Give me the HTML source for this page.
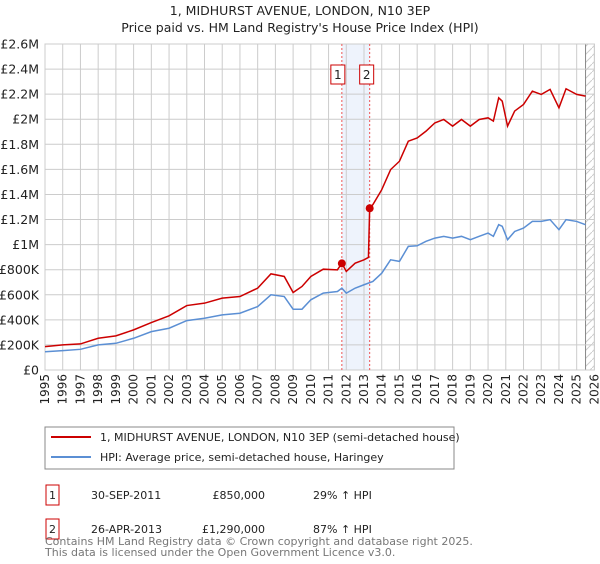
<!DOCTYPE html>
<html><head><meta charset="utf-8"><style>
body{margin:0;background:#fff;font-family:"DejaVu Sans","Liberation Sans",sans-serif;}
svg text{font-family:"DejaVu Sans","Liberation Sans",sans-serif;}
</style></head><body>
<svg id="c" width="600" height="560" xmlns="http://www.w3.org/2000/svg">
<text x="300" y="15" text-anchor="middle" font-size="12.5" fill="#222">1, MIDHURST AVENUE, LONDON, N10 3EP</text>
<text x="300" y="32" text-anchor="middle" font-size="12.5" fill="#222">Price paid vs. HM Land Registry's House Price Index (HPI)</text>
<g id="grid"></g><g id="marks"></g><g id="axes"></g>
<rect x="45" y="427" width="409" height="42" fill="#fff" stroke="#888"/>
<line x1="51" y1="437" x2="91" y2="437" stroke="#cc0000" stroke-width="2"/>
<text x="100" y="441" font-size="11" fill="#222">1, MIDHURST AVENUE, LONDON, N10 3EP (semi-detached house)</text>
<line x1="51" y1="457" x2="91" y2="457" stroke="#5b8fd4" stroke-width="2"/>
<text x="100" y="461" font-size="11" fill="#222">HPI: Average price, semi-detached house, Haringey</text>
<rect x="46" y="485" width="13" height="20" fill="#fff" stroke="#cc0000"/>
<text x="52.5" y="499" text-anchor="middle" font-size="11" fill="#222">1</text>
<text x="91" y="499" font-size="11" fill="#222">30-SEP-2011</text>
<text x="265" y="499" text-anchor="end" font-size="11" fill="#222">£850,000</text>
<text x="313" y="499" font-size="11" fill="#222">29% ↑ HPI</text>
<rect x="46" y="519" width="13" height="20" fill="#fff" stroke="#cc0000"/>
<text x="52.5" y="533" text-anchor="middle" font-size="11" fill="#222">2</text>
<text x="91" y="533" font-size="11" fill="#222">26-APR-2013</text>
<text x="265" y="533" text-anchor="end" font-size="11" fill="#222">£1,290,000</text>
<text x="313" y="533" font-size="11" fill="#222">87% ↑ HPI</text>
<text x="45" y="545" font-size="11" fill="#777">Contains HM Land Registry data © Crown copyright and database right 2025.</text>
<text x="45" y="556" font-size="11" fill="#777">This data is licensed under the Open Government Licence v3.0.</text>
</svg>
<script>
const yTicks=[0,200000,400000,600000,800000,1000000,1200000,1400000,1600000,1800000,2000000,2200000,2400000,2600000];
const yTickLabels=["£0","£200K","£400K","£600K","£800K","£1M","£1.2M","£1.4M","£1.6M","£1.8M","£2M","£2.2M","£2.4M","£2.6M"];
const hpiYears=[1995,1996,1997,1998,1999,2000,2001,2002,2003,2004,2005,2006,2007,2007.75,2008.5,2009,2009.5,2010,2010.7,2011.5,2011.75,2012,2012.5,2013,2013.5,2014,2014.5,2015,2015.5,2016,2016.5,2017,2017.5,2018,2018.5,2019,2019.5,2020,2020.3,2020.6,2020.8,2021.1,2021.5,2022,2022.5,2023,2023.5,2024,2024.4,2025,2025.5];
const hpiValues=[146000,155000,165000,200000,213000,253000,306000,333000,394000,413000,440000,453000,506000,600000,586000,485000,485000,560000,613000,626000,653000,613000,653000,680000,706000,772000,879000,866000,986000,991000,1026000,1052000,1066000,1052000,1066000,1039000,1066000,1092000,1066000,1159000,1146000,1039000,1105000,1132000,1185000,1185000,1199000,1119000,1199000,1185000,1159000];
const propYears=[1995,1996,1997,1998,1999,2000,2001,2002,2003,2004,2005,2006,2007,2007.75,2008.5,2009,2009.5,2010,2010.7,2011.5,2011.75,2012,2012.5,2013,2013.25,2013.32,2013.5,2014,2014.5,2015,2015.5,2016,2016.5,2017,2017.5,2018,2018.5,2019,2019.5,2020,2020.3,2020.6,2020.8,2021.1,2021.5,2022,2022.5,2023,2023.5,2024,2024.4,2025,2025.5];
const propValues=[186000,200000,208000,253000,272000,320000,378000,432000,514000,533000,573000,586000,653000,767000,746000,618000,666000,746000,804000,799000,852000,786000,852000,879000,898000,1292000,1319000,1438000,1598000,1665000,1825000,1851000,1905000,1971000,1998000,1945000,1998000,1945000,1998000,2011000,1985000,2171000,2144000,1945000,2065000,2118000,2224000,2198000,2238000,2091000,2243000,2198000,2184000];
const saleYears=[2011.75,2013.32];
const saleValues=[850000,1290000];
const saleLabels=["1","2"];
const NS="http://www.w3.org/2000/svg";
const X0=45,X1=594.4,Y0=370,Y1=44;
const x=y=>X0+(y-1995)/(2026-1995)*(X1-X0);
const yv=v=>Y0-v/2600000*(Y0-Y1);
function mk(t,a,p){const e=document.createElementNS(NS,t);for(const k in a)e.setAttribute(k,a[k]);p.appendChild(e);return e;}
const grid=document.getElementById('grid'),marks=document.getElementById('marks'),axes=document.getElementById('axes');
let band=mk('rect',{x:x(saleYears[0]),y:Y1,width:x(saleYears[1])-x(saleYears[0]),height:Y0-Y1,fill:'#eef3fc'},grid);


let defs=mk('defs',{},grid);
let pat=mk('pattern',{id:'h',width:8,height:8,patternUnits:'userSpaceOnUse'},defs);
mk('path',{d:'M0,8 L8,0',stroke:'#ccc','stroke-width':1},pat);
let hatch=mk('rect',{x:x(2025.5),y:Y1,width:X1-x(2025.5),height:Y0-Y1,fill:'url(#h)'},grid);


for(let yr=1995;yr<=2026;yr++){
 const g=mk('line',{x1:x(yr),x2:x(yr),y1:Y1,y2:Y0,stroke:'#cccccc','stroke-width':1},grid);
 
 
 const tx=x(yr)+4,ty=Y0+4;
 const t=mk('text',{x:tx,y:ty,'font-size':12,fill:'#222','text-anchor':'end',transform:`rotate(-90 ${tx} ${ty})`},axes);
 t.textContent=yr;
 
 
}
mk('line',{x1:x(2025.5),x2:x(2025.5),y1:Y1,y2:Y0,stroke:'#888','stroke-width':1},grid);
yTicks.forEach((v,i)=>{
 const g=mk('line',{x1:X0,x2:X1,y1:yv(v),y2:yv(v),stroke:'#cccccc','stroke-width':1},grid);
 
 
 const t=mk('text',{x:39,y:yv(v)+4.5,'font-size':12.5,fill:'#222','text-anchor':'end'},axes);
 t.textContent=yTickLabels[i];
 
 
});
mk('rect',{x:X0,y:Y1,width:X1-X0,height:Y0-Y1,fill:'none',stroke:'#cccccc'},grid);
saleYears.forEach((s,i)=>{
 const l=mk('line',{x1:x(s),x2:x(s),y1:Y1,y2:Y0,stroke:'#ee5555','stroke-width':1,'stroke-dasharray':'2,2'},marks);
 
 
});
const hp=mk('polyline',{points:hpiYears.map((yr,i)=>x(yr)+','+yv(hpiValues[i])).join(' '),fill:'none',stroke:'#5b8fd4','stroke-width':1.5},marks);


const pp=mk('polyline',{points:propYears.map((yr,i)=>x(yr)+','+yv(propValues[i])).join(' '),fill:'none',stroke:'#cc0000','stroke-width':1.5},marks);


saleYears.forEach((s,i)=>{
 const c=mk('circle',{cx:x(s),cy:yv(saleValues[i]),r:4,fill:'#cc0000'},marks);
 
 
 const bx=x(s)-(i==0?11:10);
 const r=mk('rect',{x:bx,y:65,width:14,height:19,fill:'#fff',stroke:'#cc0000'},marks);
 
 
 const t=mk('text',{x:bx+7,y:79,'font-size':12,fill:'#222','text-anchor':'middle'},marks);
 t.textContent=saleLabels[i];
 
 
});
</script>
</body></html>
